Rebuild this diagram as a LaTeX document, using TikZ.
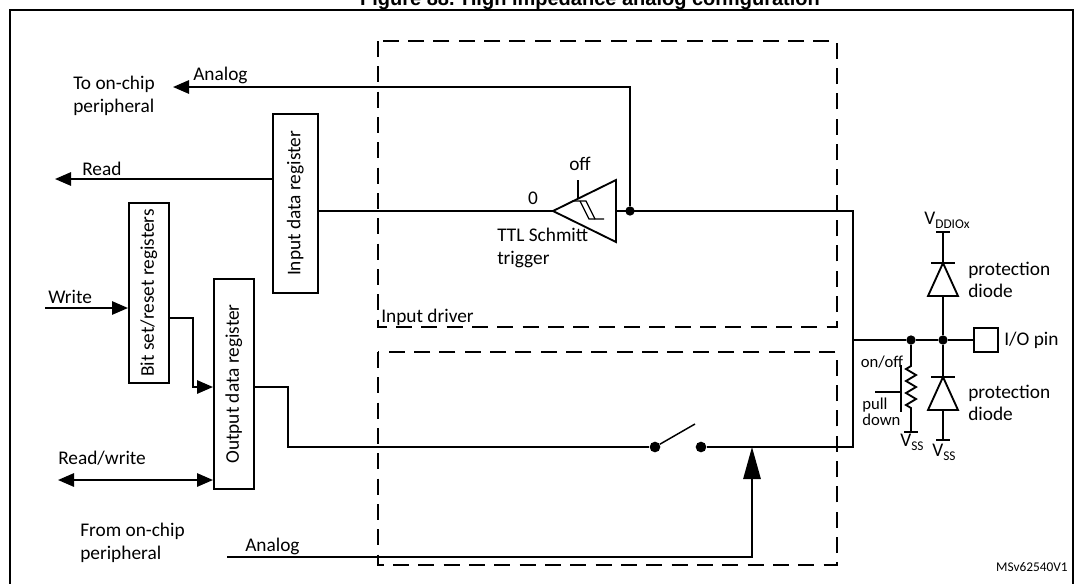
\documentclass[tikz,border=0pt]{standalone}
\usepackage{fontspec}
\setmainfont{Carlito}
\newfontfamily\arialf{Liberation Sans}
\usetikzlibrary{arrows.meta}
\begin{document}
\begin{tikzpicture}[x=0.75pt,y=-0.75pt,
  wire/.style={line width=1.4pt},
  arr/.style={wire,-{Triangle[length=12pt,width=10pt]}},
  reg/.style={draw,line width=1.4pt,minimum width=30pt,anchor=north west,inner sep=0pt},
  dashbox/.style={line width=1.2pt,dash pattern=on 12pt off 7pt},
  lbl/.style={font=\fontsize{14.5}{17}\selectfont,align=left,inner sep=0pt},
  dot/.style={circle,fill,inner sep=0pt,minimum size=7pt}]
\useasboundingbox (0,0) rectangle (1079,583);
\begin{scope}
\clip (0,0) rectangle (1079,583);
\node[font=\arialf\bfseries\fontsize{15}{17}\selectfont] (title) at (590,0) {Figure 88. High impedance analog configuration};
\draw[line width=1.6pt] (10,590) -- (10,10) -- (1073,10) -- (1073,590);
\end{scope}
% dashed boxes
\draw[dashbox] (378,41) rectangle (837,327);
\draw[dashbox] (378,352) rectangle (837,565);
\node[lbl,anchor=south west] (idrv) at (381,326) {Input driver};
% registers
\node[reg,minimum width=33.75pt,minimum height=134.25pt] (ireg) at (272,113) {};
\node[rotate=90,lbl] at (ireg.center) {Input data register};
\node[reg,minimum width=30pt,minimum height=135pt] (breg) at (128,202) {};
\node[rotate=90,lbl] at (breg.center) {Bit set/reset registers};
\node[reg,minimum width=30pt,minimum height=157.5pt] (oreg) at (213,278) {};
\node[rotate=90,lbl] at (oreg.center) {Output data register};
% labels left
\node[lbl,anchor=west] (to) at (73,96) {To on-chip\\peripheral};
\node[lbl,anchor=west] (from) at (80,543) {From on-chip\\peripheral};
\node[lbl,anchor=south west] at (193,84) {Analog};
\node[lbl,anchor=south west] at (82,176) {Read};
\node[lbl,anchor=south west] at (48,304) {Write};
\node[lbl,anchor=south west] at (58,466) {Read/write};
\node[lbl,anchor=south west] at (245,555) {Analog};
% coordinates
\coordinate (ajn) at (630,211);
\coordinate (aend) at (173,87);
\coordinate (rend) at (55,179);
\coordinate (wst) at (45,308);
\coordinate (rwst) at (58,480);
\coordinate (sw1) at (655,447);
\coordinate (sw2) at (701,447);
\coordinate (bus) at (853,340);
% Schmitt trigger
\coordinate (tl) at (553,211);
\draw[wire] (tl) -- (616,180) -- (616,242) -- cycle;
\draw[line width=1pt] (578,180) -- (578,198);
\draw[line width=1pt] (572,201) -- (586,201) -- (595,219) -- (604,219);
\draw[line width=1pt] (580,201) -- (589,219) -- (595,219);
\node[lbl] at (580,164) {off};
\node[lbl,anchor=south] at (533,205) {0};
\node[lbl,anchor=north west] at (497,228) {TTL Schmitt\\trigger};
\draw[wire] (ireg.east |- tl) -- (tl);
\draw[wire] (616,211) -- (853,211) -- (bus);
\node[dot] (adot) at (ajn) {};
\draw[arr] (adot) -- (630,87) -- (aend);
\draw[arr] (ireg.west |- rend) -- (rend);
\draw[arr] (wst) -- (breg.west |- wst);
\draw[arr] (breg.east |- 0,318) -- (193,318) -- (193,387) -- (oreg.west |- 0,387);
\draw[wire,{Triangle[length=12pt,width=10pt]}-{Triangle[length=12pt,width=10pt]}] (rwst) -- (oreg.west |- rwst);
\node[dot,minimum size=8pt] (s1) at (sw1) {};
\node[dot,minimum size=8pt] (s2) at (sw2) {};
\draw[wire] (oreg.east |- 0,387) -- (288,387) -- (288,447) -- (s1);
\draw[line width=1.1pt] (s1) -- (695,424);
\draw[wire] (s2) -- (853,447) -- (bus);
\draw[wire,-{Triangle[length=24pt,width=13pt]}] (227,557) -- (752,557) -- (752,447);
% right side
\node[dot] (n1) at (911,340) {};
\node[dot] (n2) at (943,340) {};
\node[draw,line width=1.4pt,minimum size=18pt,inner sep=0pt] (pin) at (986,340) {};
\node[lbl,anchor=west] at (1004,340) {I/O pin};
\draw[wire] (bus) -- (n1) -- (n2) -- (pin);
% upper diode
\draw[wire] (936,232) -- (950,232);
\draw[wire] (943,232) -- (n2);
\draw[wire,fill=white] (943,263) -- (928,296) -- (958,296) -- cycle;
\draw[wire] (931,263) -- (955,263);
\node[lbl,anchor=south] at (947,229) {V\raisebox{-0.4ex}{\fontsize{10}{11}\selectfont DDIOx}};
\node[lbl,anchor=west] at (968,280) {protection\\diode};
% lower diode
\draw[wire] (n2) -- (943,440);
\draw[wire,fill=white] (943,377) -- (928,410) -- (958,410) -- cycle;
\draw[wire] (931,377) -- (955,377);
\draw[wire] (936,440) -- (950,440);
\node[lbl,anchor=north] at (944,444) {V\raisebox{-0.4ex}{\fontsize{10}{11}\selectfont SS}};
\node[lbl,anchor=west] at (968,403) {protection\\diode};
% pull down
\draw[wire] (n1) -- (911,366) -- (906,369) -- (916,375) -- (906,381) -- (916,387) -- (906,393) -- (916,399) -- (906,405) -- (911,408) -- (911,432);
\draw[wire] (904,432) -- (918,432);
\draw[wire] (901,365) -- (901,412);
\draw[wire] (875,392) -- (901,392);
\node[lbl,anchor=north] at (912,434) {V\raisebox{-0.4ex}{\fontsize{10}{11}\selectfont SS}};
\node[lbl,anchor=south,font=\fontsize{12.5}{13}\selectfont] at (882,368) {on/off};
\node[lbl,anchor=north west,font=\fontsize{12.5}{10}\selectfont] at (862,398) {pull\\down};
\node[anchor=south east,inner sep=0pt,font=\fontsize{10}{11}\selectfont] at (1068,572) {MSv62540V1};
\end{tikzpicture}
\end{document}
